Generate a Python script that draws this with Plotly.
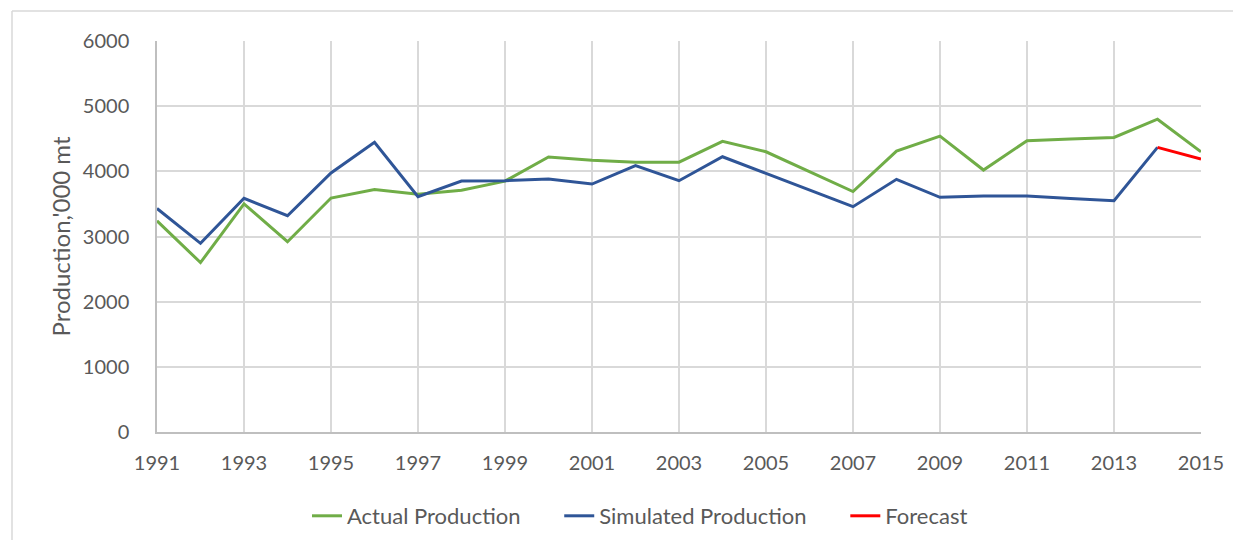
import plotly.graph_objects as go

years = list(range(1991, 2016))
actual = [3240, 2600, 3500, 2920, 3590, 3720, 3650, 3710, 3850, 4220, 4170, 4140, 4140,
          4460, 4300, 4000, 3690, 4310, 4540, 4020, 4470, 4495, 4520, 4800, 4300]
sim_years = list(range(1991, 2015))
simulated = [3430, 2895, 3586, 3319, 3975, 4445, 3611, 3851, 3856, 3882, 3805, 4087, 3856,
             4224, 3968, 3710, 3458, 3877, 3601, 3621, 3621, 3585, 3549, 4368]
fc_years = [2014, 2015]
forecast = [4368, 4189]
series_names = ["Actual Production", "Simulated Production", "Forecast"]

# page offset of the figure (body margin)
OFF = 8
W, H = 1225, 532
ml, mr, mt, mb = 157 - OFF, 32, 41 - OFF, 108
PAD = "\u00a0" * 6

fig = go.Figure()
fig.add_trace(go.Scatter(x=years, y=actual, mode="lines", name=series_names[0] + PAD,
                         line=dict(color="#70ad47", width=3)))
fig.add_trace(go.Scatter(x=sim_years, y=simulated, mode="lines", name=series_names[1] + PAD,
                         line=dict(color="#2f5597", width=3)))
fig.add_trace(go.Scatter(x=fc_years, y=forecast, mode="lines", name=series_names[2],
                         line=dict(color="#ff0000", width=3)))

pw = W - ml - mr
ph = H - mt - mb
def px2paper_x(px):
    return (px - OFF - ml) / pw
def px2paper_y(py):
    return (H - mb - (py - OFF)) / ph
def px2cont_x(px):
    return (px - OFF) / W
def px2cont_y(py):
    return 1 - (py - OFF) / H

fig.update_layout(
    width=W, height=H,
    margin=dict(l=ml, r=mr, t=mt, b=mb, autoexpand=False),
    paper_bgcolor="white", plot_bgcolor="white",
    font=dict(family="Lato, Open Sans, sans-serif", size=20, color="#595959"),
    showlegend=True,
    legend=dict(orientation="h", xref="container", yref="container",
                x=px2cont_x(640), xanchor="center",
                y=px2cont_y(516), yanchor="middle",
                font=dict(size=22, color="#595959"), traceorder="normal"),
    xaxis=dict(range=[1991, 2015], dtick=2, tick0=1991, showgrid=True,
               gridcolor="#d9d9d9", gridwidth=1.5, showline=True, linecolor="#bfbfbf",
               linewidth=1.5, ticks="", zeroline=False, tickfont=dict(size=20),
               ticklabelstandoff=12, automargin=False),
    yaxis=dict(range=[0, 6000], dtick=1000, showgrid=True, gridcolor="#d9d9d9",
               gridwidth=1.5, showline=True, linecolor="#bfbfbf", linewidth=1.5,
               ticks="", zeroline=False, tickfont=dict(size=20),
               ticklabelstandoff=22, automargin=False,
               title=dict(text="Production,'000 mt", font=dict(size=24, color="#595959"),
                          standoff=5)),
    shapes=[
        dict(type="line", xref="paper", yref="paper",
             x0=px2paper_x(12), x1=px2paper_x(1260), y0=px2paper_y(11), y1=px2paper_y(11),
             line=dict(color="#d9d9d9", width=1.5)),
        dict(type="line", xref="paper", yref="paper",
             x0=px2paper_x(12), x1=px2paper_x(12), y0=px2paper_y(11), y1=px2paper_y(560),
             line=dict(color="#d9d9d9", width=1.5)),
    ],
)

fig.write_html("out.html")
